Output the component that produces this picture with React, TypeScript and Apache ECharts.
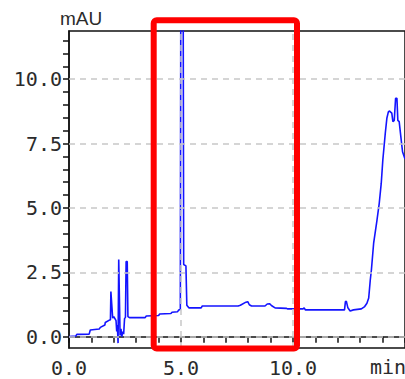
import React, { useEffect, useRef } from "react";
import * as echarts from "echarts";

// Chromatogram trace: retention time (min) and absorbance (mAU)
const timeMin = [
  0.0, 0.3, 0.35, 0.9, 0.95, 1.35, 1.4, 1.6, 1.62, 1.82, 1.85, 1.87, 1.89,
  1.95, 2.0, 2.05, 2.1, 2.13, 2.16, 2.19, 2.22, 2.25, 2.28, 2.32, 2.36, 2.4,
  2.44, 2.48, 2.52, 2.55, 2.6, 2.63, 2.7, 3.4, 3.45, 4.0, 4.05, 4.55, 4.6,
  4.85, 4.9, 4.97, 5.02, 5.06, 5.12, 5.22, 5.26, 5.35, 5.9, 5.95, 7.55, 7.65,
  7.9, 7.98, 8.05, 8.15, 8.75, 8.85, 8.95, 9.05, 9.2, 9.7, 9.75, 10.45, 10.5,
  10.55, 12.3, 12.34, 12.38, 12.45, 12.55, 12.7, 13.05, 13.2, 13.3, 13.38,
  13.45, 13.5, 13.6, 13.75, 13.85, 13.94, 14.01, 14.12, 14.19, 14.26, 14.31,
  14.41, 14.46, 14.52, 14.58, 14.64, 14.68, 14.74, 14.83, 14.89, 15.0,
];
const absorbance = [
  0.0, 0.02, 0.09, 0.1, 0.26, 0.3, 0.36, 0.45, 0.55, 0.65, 0.66, 1.75, 1.75,
  0.72, 0.78, 0.7, 0.62, 0.2, 0.45, -0.25, 3.0, 3.0, 0.05, 0.3, 0.0, 0.2, 0.1,
  0.7, 0.75, 2.92, 2.92, 0.78, 0.74, 0.74, 0.8, 0.82, 0.88, 0.9, 0.95, 0.97,
  1.04, 1.06, 30, 30, 2.8, 2.75, 1.22, 1.12, 1.12, 1.19, 1.19, 1.22, 1.34,
  1.36, 1.24, 1.19, 1.19, 1.27, 1.28, 1.2, 1.12, 1.1, 1.08, 1.08, 1.12, 1.04,
  1.04, 1.36, 1.38, 1.12, 1.0, 1.04, 1.08, 1.17, 1.3, 1.5, 2.2, 2.59, 3.63,
  4.53, 5.18, 5.96, 6.86, 7.9, 8.48, 8.74, 8.76, 8.68, 8.35, 8.4, 9.26, 9.26,
  8.4, 8.35, 7.64, 7.18, 6.9,
];

const yLabelValues = [0, 2.5, 5, 7.5, 10];
const yTickValues = [
  0, 0.5, 1, 1.5, 2, 2.5, 3, 3.5, 4, 4.5, 5, 5.5, 6, 6.5, 7, 7.5, 8, 8.5, 9,
  9.5, 10, 10.5, 11, 11.5,
];
const xLabelValues = [0, 5, 10];
const xGridValues = [5, 10];

const labelFont = "'DejaVu Sans Mono', monospace";
const textColor = "#2b2b2b";

export default function App() {
  const ref = useRef<HTMLDivElement>(null);

  useEffect(() => {
    if (!ref.current) return;
    const chart = echarts.init(ref.current, null, { renderer: "svg" });
    const trace = timeMin.map((t, i) => [t, absorbance[i]]);
    const dashed = {
      color: "#c8c8c8",
      type: [6, 5] as number[],
      width: 1.5,
    };

    chart.setOption({
      animation: false,
      backgroundColor: "#ffffff",
      grid: {
        left: 69,
        top: 31,
        width: 337.5,
        height: 317,
        show: true,
        borderColor: "#111",
        borderWidth: 1.5,
        backgroundColor: "transparent",
      },
      xAxis: {
        type: "value",
        min: 0,
        max: 15,
        interval: 1,
        axisLine: { show: true, lineStyle: { color: "#111", width: 1.5 } },
        axisTick: {
          show: true,
          inside: false,
          length: 6,
          lineStyle: { color: "#111", width: 1.5 },
        },
        axisLabel: {
          customValues: xLabelValues,
          formatter: (v: number) => v.toFixed(1),
          fontFamily: labelFont,
          fontSize: 20,
          color: textColor,
          margin: 10,
        },
        splitLine: { show: false },
      },
      yAxis: {
        type: "value",
        min: -0.44,
        max: 11.87,
        axisLine: { show: true, lineStyle: { color: "#111", width: 1.5 } },
        axisTick: {
          show: true,
          inside: false,
          length: 6,
          customValues: yTickValues,
          lineStyle: { color: "#111", width: 1.5 },
        },
        axisLabel: {
          customValues: yLabelValues,
          formatter: (v: number) => v.toFixed(1),
          fontFamily: labelFont,
          fontSize: 20,
          color: textColor,
          margin: 7,
        },
        splitLine: { show: false },
      },
      series: [
        {
          type: "line",
          data: [],
          z: 1,
          silent: true,
          markLine: {
            silent: true,
            symbol: "none",
            label: { show: false },
            lineStyle: dashed,
            data: [
              ...yLabelValues.map((v) => ({ yAxis: v })),
              ...xGridValues.map((v) => ({ xAxis: v })),
            ],
          },
        },
        {
          type: "line",
          data: trace,
          z: 3,
          showSymbol: false,
          symbol: "none",
          clip: true,
          lineStyle: { color: "#1414ff", width: 1.6 },
        },
      ],
      graphic: [
        {
          type: "text",
          left: 60,
          top: 9,
          style: {
            text: "mAU",
            font: "19px 'Liberation Sans Narrow', 'Liberation Sans', sans-serif",
            fill: textColor,
          },
        },
        {
          type: "text",
          left: 370,
          top: 357,
          style: {
            text: "min",
            font: `20px ${labelFont}`,
            fill: textColor,
          },
        },
        {
          type: "rect",
          z: 100,
          shape: { x: 153.7, y: 20.3, width: 143.3, height: 328.3, r: 3 },
          style: { fill: "none", stroke: "#ff0000", lineWidth: 6 },
        },
      ],
    });

    return () => chart.dispose();
  }, []);

  return (
    <div
      ref={ref}
      style={{ position: "fixed", left: 0, top: 0, width: 405, height: 379 }}
    />
  );
}
